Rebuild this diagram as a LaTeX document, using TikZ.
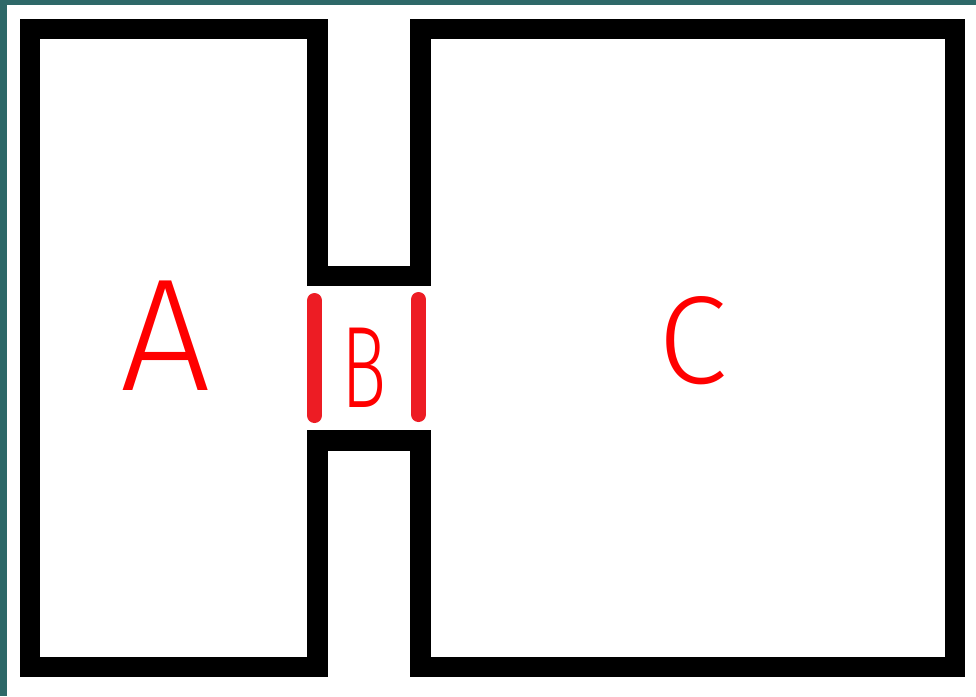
\documentclass[tikz,border=0pt]{standalone}
\usepackage{fontspec}
\newfontfamily\handfont{Fira Sans Light}
\definecolor{tealband}{RGB}{46,104,104}
\definecolor{barred}{RGB}{237,28,36}
\tikzset{
  wall/.style={line width=20.5pt, line join=miter, miter limit=10, black},
  gatebar/.style={line width=15pt, line cap=round, barred},
  letter/.style={text=red, anchor=base, inner sep=0pt}
}
\begin{document}
\begin{tikzpicture}[x=1pt,y=-1pt]
\useasboundingbox (0,0) rectangle (976,696);
\fill[white] (0,0) rectangle (976,696);
\fill[tealband] (0,0) rectangle (976,5);
\fill[tealband] (0,0) rectangle (7,696);
% walls
\draw[wall] (30,29) -- (317.5,29) -- (317.5,276) -- (420.5,276) -- (420.5,29)
  -- (955,29) -- (955,667) -- (420.5,667) -- (420.5,440.5) -- (317.5,440.5)
  -- (317.5,667) -- (30,667) -- cycle;
% gate bars
\coordinate (l1) at (314.5,300.5);
\coordinate (l2) at (314.5,415.5);
\coordinate (r1) at (418.5,299.5);
\coordinate (r2) at (418.5,414.5);
\draw[gatebar] (l1) -- (l2);
\draw[gatebar] (r1) -- (r2);
% labels
\node[letter, font=\handfont\fontsize{160}{160}\selectfont] (A) at (166,390) {A};
\node[letter, font=\handfont\fontsize{116}{116}\selectfont, xscale=0.65] (B) at (364,407) {B};
\node[letter, font=\handfont\fontsize{125}{125}\selectfont] (C) at (693,383) {C};
\end{tikzpicture}
\end{document}
